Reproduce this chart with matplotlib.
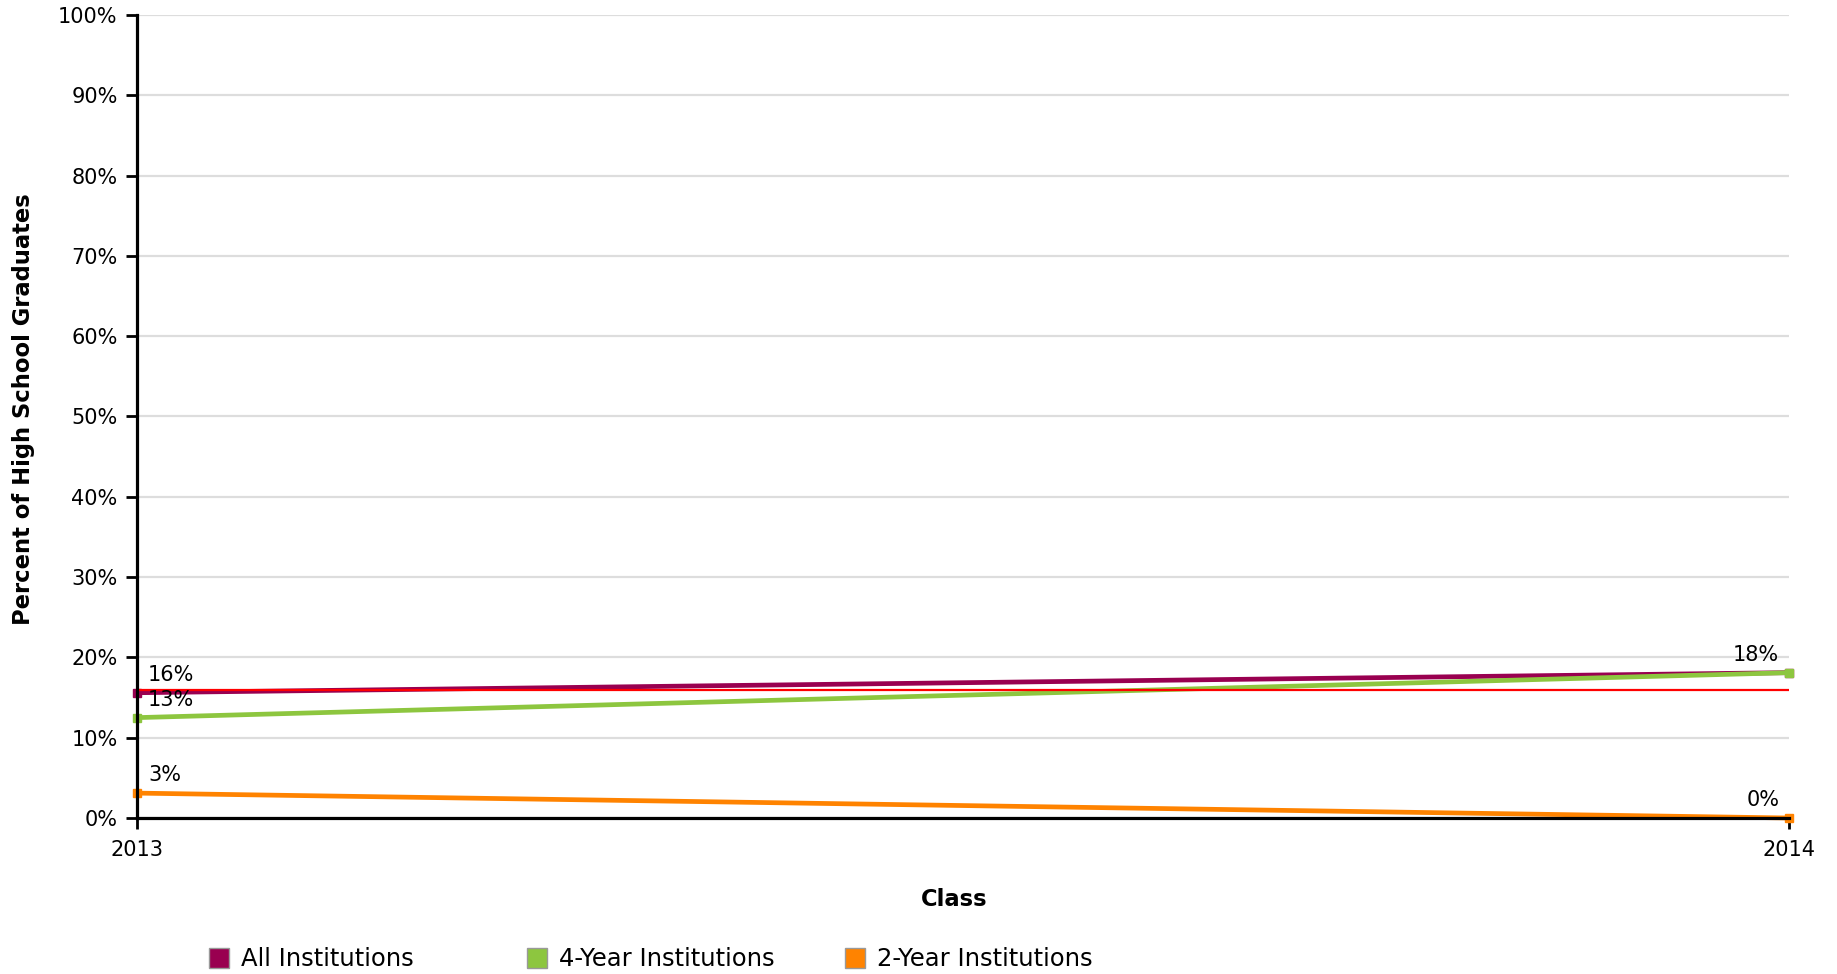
import matplotlib
matplotlib.use("Agg")
import matplotlib.pyplot as plt
from matplotlib.patches import Rectangle

# ---- data ----
classes = [2013, 2014]
series_names = ["All Institutions", "4-Year Institutions", "2-Year Institutions"]
all_inst = [15.6, 18.1]
four_year = [12.5, 18.1]
two_year = [3.1, 0.0]
reference_line = 16.0
y_ticks = [0, 10, 20, 30, 40, 50, 60, 70, 80, 90, 100]
y_tick_labels = [f"{v}%" for v in y_ticks]
x_tick_labels = ["2013", "2014"]

colors = ["#990050", "#8DC63F", "#FF8300"]
series_values = [all_inst, four_year, two_year]

W, H = 1837, 974
fig = plt.figure(figsize=(W / 100, H / 100), dpi=100)
ax = fig.add_axes([137 / W, 1 - 818 / H, (1789 - 137) / W, (818 - 15) / H])

ax.set_xlim(classes[0], classes[-1])
ax.set_ylim(0, 100)

ax.set_yticks(y_ticks)
ax.set_yticklabels(y_tick_labels)
ax.set_xticks(classes)
ax.set_xticklabels(x_tick_labels)

ax.grid(axis="y", color="#dddddd", linewidth=1.6)
ax.set_axisbelow(True)
for s in ["top", "right"]:
    ax.spines[s].set_visible(False)
for s in ["left", "bottom"]:
    ax.spines[s].set_linewidth(2.3)
    ax.spines[s].set_color("black")
    ax.spines[s].set_zorder(6)
ax.tick_params(axis="both", length=8, width=2, color="black", labelsize=15, pad=6)
ax.tick_params(axis="x", pad=8)

# series lines
for vals, c in zip(series_values, colors):
    ax.plot(classes, vals, color=c, linewidth=3.4, marker="s", markersize=6,
            clip_on=False, zorder=3, solid_capstyle="butt")

# reference line
ax.plot([classes[0], classes[-1]], [reference_line, reference_line], color="#FF0000",
        linewidth=1.6, zorder=4)

# data labels
seen = set()
for vals in series_values:
    for i, v in enumerate(vals):
        txt = f"{round(v + 1e-9):.0f}%"
        key = (i, txt)
        if key in seen:
            continue
        seen.add(key)
        if i == 0:
            ax.annotate(txt, (classes[i], v), xytext=(8, 13), textcoords="offset points",
                        ha="left", va="center", fontsize=15, zorder=7)
        else:
            ax.annotate(txt, (classes[i], v), xytext=(-7, 13), textcoords="offset points",
                        ha="right", va="center", fontsize=15, zorder=7)

# axis titles
fig.text(24 / W, 1 - 409 / H, "Percent of High School Graduates", rotation=90,
         ha="center", va="center", fontsize=16.3, fontweight="bold")
fig.text(954 / W, 1 - 900 / H, "Class", ha="center", va="center",
         fontsize=16.3, fontweight="bold")

# legend
legend_sq_x = [209, 527, 845]
for name, c, sx in zip(series_names, colors, legend_sq_x):
    fig.add_artist(Rectangle((sx / W, 1 - 968 / H), 20 / W, 20 / H, transform=fig.transFigure,
                             facecolor=c, edgecolor="#999999", linewidth=1))
    fig.text((sx + 32) / W, 1 - 959 / H, name, ha="left", va="center", fontsize=17.5)

fig.savefig("out.png", dpi=100, facecolor="white")
